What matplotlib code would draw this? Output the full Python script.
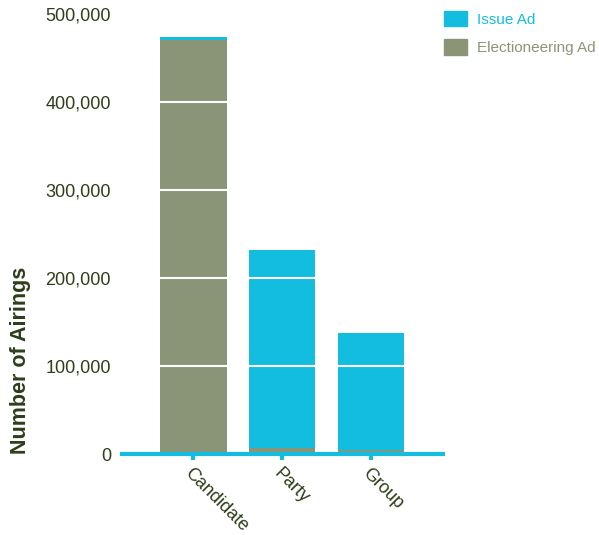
import matplotlib
matplotlib.use("Agg")
import matplotlib.pyplot as plt
from matplotlib.patches import Patch

plt.rcParams['font.family'] = ['Liberation Sans', 'DejaVu Sans']

# Airings by sponsor type
sponsors = ['Candidate', 'Party', 'Group']
electioneering = [471000, 7000, 4000]
issue = [3000, 225000, 133500]
y_ticks = [0, 100000, 200000, 300000, 400000, 500000]

cyan = '#13bde0'
sage = '#8a9577'
dark = '#2e3d1a'

fig = plt.figure(figsize=(5.99, 5.35), dpi=100)
ax = fig.add_axes([0.2037, 0.1514, 0.536, 0.8224])

x = list(range(len(sponsors)))
ax.bar(x, electioneering, width=0.75, color=sage, zorder=2)
ax.bar(x, issue, width=0.75, bottom=electioneering, color=cyan, zorder=2)

# white gridlines only show up across the bars
for v in y_ticks[1:-1]:
    ax.axhline(v, color='white', lw=1.5, zorder=3)

ax.set_xlim(-0.80, 2.81)
ax.set_ylim(0, 500000)
ax.set_yticks(y_ticks)
ax.set_yticklabels([f'{v:,}' for v in y_ticks], fontsize=13, color=dark)
ax.tick_params(axis='y', length=0, pad=8)

ax.set_xticks(x)
ax.set_xticklabels(sponsors, fontsize=13, color=dark, rotation=-45,
                   ha='left', va='top', rotation_mode='anchor')
ax.tick_params(axis='x', colors=cyan, length=4, width=3, pad=4)
for lbl in ax.get_xticklabels():
    lbl.set_color(dark)

for side in ['left', 'right', 'top']:
    ax.spines[side].set_visible(False)
ax.spines['bottom'].set_color(cyan)
ax.spines['bottom'].set_linewidth(3)
ax.spines['bottom'].set_zorder(4)

ax.set_ylabel('Number of Airings', fontsize=15.5, fontweight='bold',
              color=dark, loc='bottom')
ax.yaxis.set_label_coords(-0.283, 0.0)

handles = [Patch(color=cyan, label='Issue Ad'),
           Patch(color=sage, label='Electioneering Ad')]
leg = fig.legend(handles=handles, loc='upper left',
                 bbox_to_anchor=(430 / 599, 1 + 3 / 535), frameon=False,
                 fontsize=11, handlelength=1.5, handleheight=1.15,
                 handletextpad=0.65, labelspacing=0.85)
for txt, c in zip(leg.get_texts(), [cyan, sage]):
    txt.set_color(c)

fig.savefig('out.png', dpi=100)
